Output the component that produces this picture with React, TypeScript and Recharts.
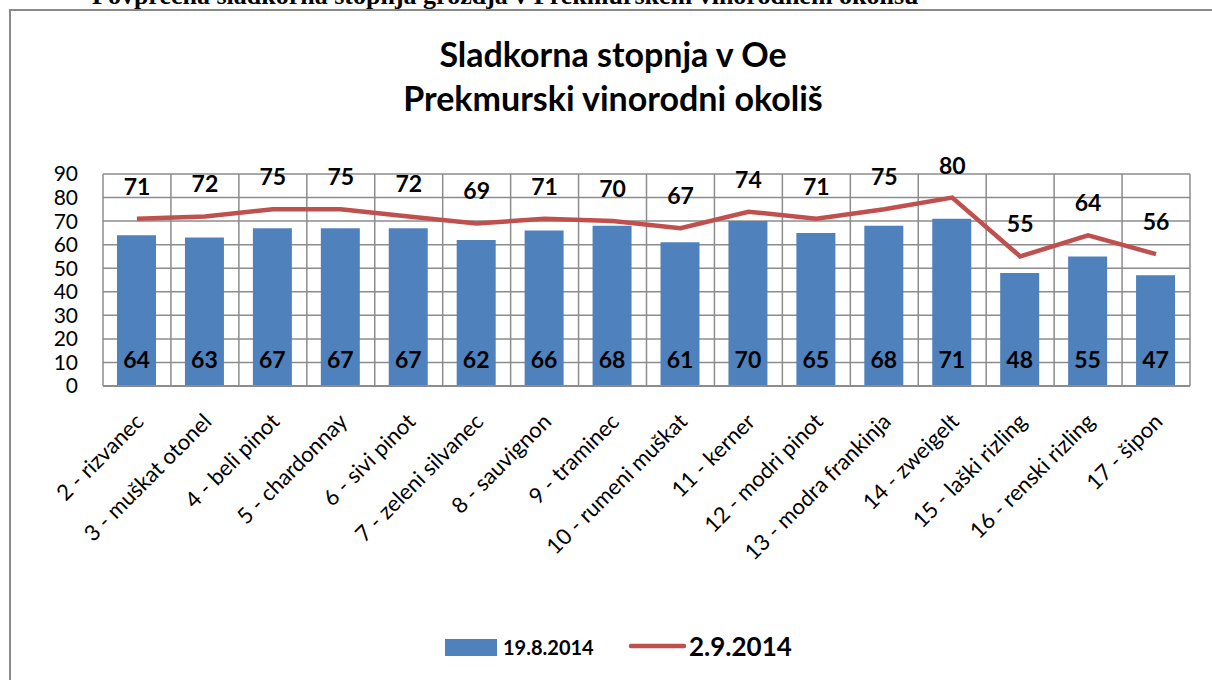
import React from 'react';
import { ComposedChart, Bar, Line, XAxis, YAxis, CartesianGrid, LabelList } from 'recharts';

const categories = ['2 - rizvanec', '3 - muškat otonel', '4 - beli pinot', '5 - chardonnay', '6 - sivi pinot', '7 - zeleni silvanec', '8 - sauvignon', '9 - traminec', '10 - rumeni muškat', '11 - kerner', '12 - modri pinot', '13 - modra frankinja', '14 - zweigelt', '15 - laški rizling', '16 - renski rizling', '17 - šipon'];
const augValues = [64, 63, 67, 67, 67, 62, 66, 68, 61, 70, 65, 68, 71, 48, 55, 47];
const sepValues = [71, 72, 75, 75, 72, 69, 71, 70, 67, 74, 71, 75, 80, 55, 64, 56];
const yTicks = [0, 10, 20, 30, 40, 50, 60, 70, 80, 90];
const seriesNames = ['19.8.2014', '2.9.2014'];
const headingText = 'Povprečna sladkorna stopnja grozdja v Prekmurskem vinorodnem okolišu';
const titleLines = ['Sladkorna stopnja v Oe', 'Prekmurski vinorodni okoliš'];

const data = categories.map((name, i) => ({ name, aug: augValues[i], sep: sepValues[i] }));

const FONT = 'Lato, "Open Sans", sans-serif';
const BLUE = '#4F81BD';
const RED = '#C0504D';
const GRID = '#8c8c8c';

const XTick = (props: any) => {
  const { x, y, payload } = props;
  const ax = x + 8;
  const ay = y + 37;
  return (
    <text x={ax} y={ay} textAnchor="end" transform={`rotate(-45, ${ax}, ${ay})`} fontFamily={FONT} fontSize={22} fill="#000">
      {payload.value}
    </text>
  );
};

const BarLabel = (props: any) => {
  const { x, y, width, height, value } = props;
  return (
    <text x={x + width / 2} y={y + height - 27} textAnchor="middle" dominantBaseline="central" fontFamily={FONT} fontWeight={700} fontSize={23} fill="#000">
      {value}
    </text>
  );
};

const LineLabel = (props: any) => {
  const { x, y, value } = props;
  return (
    <text x={x} y={y - 33} textAnchor="middle" dominantBaseline="central" fontFamily={FONT} fontWeight={700} fontSize={23} fill="#000">
      {value}
    </text>
  );
};

export default function App() {
  return (
    <div style={{ position: 'absolute', left: 0, top: 0, width: 1212, height: 680, background: '#fff', overflow: 'hidden' }}>
      <svg width={1212} height={680} style={{ position: 'absolute', left: 0, top: 0 }}>
        <text x={92} y={4} fontFamily='"Liberation Serif", serif' fontWeight={700} fontSize={26} fill="#000">{headingText}</text>
        <rect x={10} y={10} width={1240} height={700} fill="none" stroke="#8a8a8a" strokeWidth={2} />
        <text x={613} y={67} textAnchor="middle" fontFamily={FONT} fontWeight={700} fontSize={34} fill="#000">{titleLines[0]}</text>
        <text x={613} y={111} textAnchor="middle" fontFamily={FONT} fontWeight={700} fontSize={34} fill="#000">{titleLines[1]}</text>
        <rect x={445} y={639} width={52} height={17} fill={BLUE} />
        <text x={503} y={655} fontFamily={FONT} fontWeight={700} fontSize={20} fill="#000">{seriesNames[0]}</text>
        <line x1={631} y1={646} x2={684} y2={646} stroke={RED} strokeWidth={4.5} strokeLinecap="round" />
        <text x={689} y={656} fontFamily={FONT} fontWeight={700} fontSize={26} fill="#000">{seriesNames[1]}</text>
      </svg>
      <div style={{ position: 'absolute', left: 0, top: 0 }}>
        <ComposedChart width={1212} height={680} data={data} margin={{ top: 174, right: 22, bottom: 44, left: 0 }}>
          <CartesianGrid
            stroke={GRID}
            strokeWidth={1.5}
            verticalCoordinatesGenerator={(p: any) => {
              const off = p.offset;
              return Array.from({ length: categories.length + 1 }, (_, i) => off.left + (i * off.width) / categories.length);
            }}
          />
          <XAxis
            dataKey="name"
            interval={0}
            tick={<XTick />}
            tickLine={false}
            tickSize={0}
            tickMargin={0}
            axisLine={{ stroke: GRID, strokeWidth: 2 }}
            height={250}
          />
          <YAxis
            domain={[0, 90]}
            ticks={yTicks}
            width={103}
            tickLine={false}
            axisLine={false}
            tickSize={0}
            tickMargin={25}
            tick={{ fontFamily: FONT, fontSize: 21, fill: '#000' }}
            interval={0}
          />
          <Bar dataKey="aug" name={seriesNames[0]} fill={BLUE} barSize={39} isAnimationActive={false}>
            <LabelList dataKey="aug" content={<BarLabel />} />
          </Bar>
          <Line dataKey="sep" name={seriesNames[1]} type="linear" stroke={RED} strokeWidth={4.5} dot={false} activeDot={false} isAnimationActive={false}>
            <LabelList dataKey="sep" content={<LineLabel />} />
          </Line>
        </ComposedChart>
      </div>
    </div>
  );
}
